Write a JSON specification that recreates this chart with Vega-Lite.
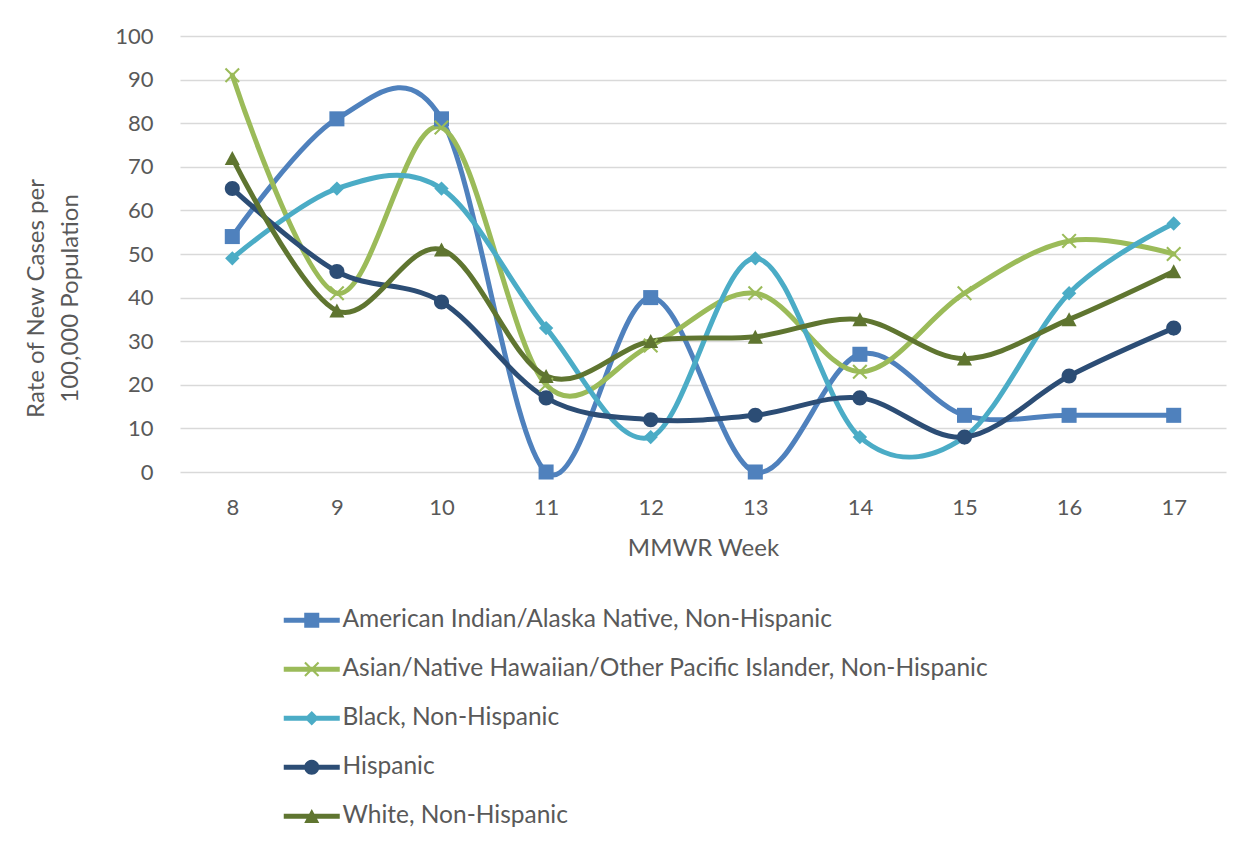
{
  "$schema": "https://vega.github.io/schema/vega-lite/v6.json",
  "width": 1046,
  "height": 436,
  "autosize": {"type": "none"},
  "padding": {"left": 180, "top": 36, "right": 24, "bottom": 374},
  "background": "white",
  "config": {
    "view": {"stroke": null},
    "font": "Lato",
    "axis": {"labelFont": "Lato", "titleFont": "Lato", "labelColor": "#595959", "titleColor": "#595959", "titleFontWeight": "normal", "labelFontSize": 22, "titleFontSize": 24},
    "legend": {"labelFont": "Lato"}
  },
  "data": {
    "values": [
      {"week": 8, "group": "American Indian/Alaska Native, Non-Hispanic", "rate": 54},
      {"week": 9, "group": "American Indian/Alaska Native, Non-Hispanic", "rate": 81},
      {"week": 10, "group": "American Indian/Alaska Native, Non-Hispanic", "rate": 81},
      {"week": 11, "group": "American Indian/Alaska Native, Non-Hispanic", "rate": 0},
      {"week": 12, "group": "American Indian/Alaska Native, Non-Hispanic", "rate": 40},
      {"week": 13, "group": "American Indian/Alaska Native, Non-Hispanic", "rate": 0},
      {"week": 14, "group": "American Indian/Alaska Native, Non-Hispanic", "rate": 27},
      {"week": 15, "group": "American Indian/Alaska Native, Non-Hispanic", "rate": 13},
      {"week": 16, "group": "American Indian/Alaska Native, Non-Hispanic", "rate": 13},
      {"week": 17, "group": "American Indian/Alaska Native, Non-Hispanic", "rate": 13},
      {"week": 8, "group": "Asian/Native Hawaiian/Other Pacific Islander, Non-Hispanic", "rate": 91},
      {"week": 9, "group": "Asian/Native Hawaiian/Other Pacific Islander, Non-Hispanic", "rate": 41},
      {"week": 10, "group": "Asian/Native Hawaiian/Other Pacific Islander, Non-Hispanic", "rate": 79},
      {"week": 11, "group": "Asian/Native Hawaiian/Other Pacific Islander, Non-Hispanic", "rate": 20},
      {"week": 12, "group": "Asian/Native Hawaiian/Other Pacific Islander, Non-Hispanic", "rate": 29},
      {"week": 13, "group": "Asian/Native Hawaiian/Other Pacific Islander, Non-Hispanic", "rate": 41},
      {"week": 14, "group": "Asian/Native Hawaiian/Other Pacific Islander, Non-Hispanic", "rate": 23},
      {"week": 15, "group": "Asian/Native Hawaiian/Other Pacific Islander, Non-Hispanic", "rate": 41},
      {"week": 16, "group": "Asian/Native Hawaiian/Other Pacific Islander, Non-Hispanic", "rate": 53},
      {"week": 17, "group": "Asian/Native Hawaiian/Other Pacific Islander, Non-Hispanic", "rate": 50},
      {"week": 8, "group": "Black, Non-Hispanic", "rate": 49},
      {"week": 9, "group": "Black, Non-Hispanic", "rate": 65},
      {"week": 10, "group": "Black, Non-Hispanic", "rate": 65},
      {"week": 11, "group": "Black, Non-Hispanic", "rate": 33},
      {"week": 12, "group": "Black, Non-Hispanic", "rate": 8},
      {"week": 13, "group": "Black, Non-Hispanic", "rate": 49},
      {"week": 14, "group": "Black, Non-Hispanic", "rate": 8},
      {"week": 15, "group": "Black, Non-Hispanic", "rate": 8},
      {"week": 16, "group": "Black, Non-Hispanic", "rate": 41},
      {"week": 17, "group": "Black, Non-Hispanic", "rate": 57},
      {"week": 8, "group": "Hispanic", "rate": 65},
      {"week": 9, "group": "Hispanic", "rate": 46},
      {"week": 10, "group": "Hispanic", "rate": 39},
      {"week": 11, "group": "Hispanic", "rate": 17},
      {"week": 12, "group": "Hispanic", "rate": 12},
      {"week": 13, "group": "Hispanic", "rate": 13},
      {"week": 14, "group": "Hispanic", "rate": 17},
      {"week": 15, "group": "Hispanic", "rate": 8},
      {"week": 16, "group": "Hispanic", "rate": 22},
      {"week": 17, "group": "Hispanic", "rate": 33},
      {"week": 8, "group": "White, Non-Hispanic", "rate": 72},
      {"week": 9, "group": "White, Non-Hispanic", "rate": 37},
      {"week": 10, "group": "White, Non-Hispanic", "rate": 51},
      {"week": 11, "group": "White, Non-Hispanic", "rate": 22},
      {"week": 12, "group": "White, Non-Hispanic", "rate": 30},
      {"week": 13, "group": "White, Non-Hispanic", "rate": 31},
      {"week": 14, "group": "White, Non-Hispanic", "rate": 35},
      {"week": 15, "group": "White, Non-Hispanic", "rate": 26},
      {"week": 16, "group": "White, Non-Hispanic", "rate": 35},
      {"week": 17, "group": "White, Non-Hispanic", "rate": 46}
    ]
  },
  "encoding": {
    "x": {
      "field": "week", "type": "quantitative",
      "scale": {"domain": [7.5, 17.5], "nice": false, "zero": false},
      "axis": {"values": [8, 9, 10, 11, 12, 13, 14, 15, 16, 17], "grid": false, "domain": false, "ticks": false, "tickSize": 0, "labelPadding": 25, "title": "MMWR Week", "titlePadding": 18, "labelFlush": false}
    },
    "y": {
      "field": "rate", "type": "quantitative",
      "scale": {"domain": [0, 100], "nice": false},
      "axis": {"values": [0, 10, 20, 30, 40, 50, 60, 70, 80, 90, 100], "grid": true, "gridColor": "#d9d9d9", "gridWidth": 1.5, "domain": false, "ticks": false, "tickSize": 0, "labelPadding": 27,
        "title": ["Rate of New Cases per", "100,000 Population"], "titleX": -144, "titleY": 262, "titleAngle": 270, "titleAlign": "center", "titleBaseline": "middle", "titleLineHeight": 34}
    }
  },
  "layer": [
    {
      "mark": {"type": "line", "interpolate": "cardinal", "tension": 0, "strokeWidth": 5, "strokeCap": "round", "strokeJoin": "round"},
      "encoding": {
        "color": {"field": "group", "type": "nominal", "legend": null,
          "scale": {"domain": ["American Indian/Alaska Native, Non-Hispanic", "Asian/Native Hawaiian/Other Pacific Islander, Non-Hispanic", "Black, Non-Hispanic", "Hispanic", "White, Non-Hispanic"],
            "range": ["#4F81BD", "#9BBB59", "#4BACC6", "#2C4D75", "#5F7530"]}}
      }
    },
    {
      "mark": {"type": "point", "filled": true, "size": 256, "opacity": 1, "strokeWidth": 0},
      "encoding": {
        "color": {"field": "group", "type": "nominal", "legend": null,
          "scale": {"domain": ["American Indian/Alaska Native, Non-Hispanic", "Asian/Native Hawaiian/Other Pacific Islander, Non-Hispanic", "Black, Non-Hispanic", "Hispanic", "White, Non-Hispanic"],
            "range": ["#4F81BD", "#9BBB59", "#4BACC6", "#2C4D75", "#5F7530"]}},
        "shape": {"field": "group", "type": "nominal", "legend": null,
          "scale": {"domain": ["American Indian/Alaska Native, Non-Hispanic", "Asian/Native Hawaiian/Other Pacific Islander, Non-Hispanic", "Black, Non-Hispanic", "Hispanic", "White, Non-Hispanic"],
            "range": [
              "M-0.94,-0.94H0.94V0.94H-0.94Z",
              "M-0.758,-0.942L0.942,0.758L0.758,0.942L-0.942,-0.758Z M-0.758,0.942L-0.942,0.758L0.758,-0.942L0.942,-0.758Z",
              "M0,-0.9L0.9,0L0,0.9L-0.9,0Z",
              "M-0.94,0A0.94,0.94,0,1,1,0.94,0A0.94,0.94,0,1,1,-0.94,0Z",
              "M0,-0.9L0.94,0.85L-0.94,0.85Z"
            ]}}
      }
    },
    {
      "transform": [{"filter": "datum.rate < -1000"}],
      "mark": {"type": "point", "filled": true, "size": 256, "opacity": 1, "strokeWidth": 0},
      "encoding": {
        "color": {"field": "group", "type": "nominal",
          "scale": {"domain": ["American Indian/Alaska Native, Non-Hispanic", "Asian/Native Hawaiian/Other Pacific Islander, Non-Hispanic", "Black, Non-Hispanic", "Hispanic", "White, Non-Hispanic"],
            "range": ["#4F81BD", "#9BBB59", "#4BACC6", "#2C4D75", "#5F7530"]},
          "legend": {"orient": "none", "legendX": 119.5, "legendY": 572, "direction": "vertical", "title": null, "labelFontSize": 24.5, "labelColor": "#595959", "symbolSize": 256, "symbolStrokeWidth": 0, "labelOffset": 18.5, "rowPadding": 24, "padding": 0, "labelLimit": 0}},
        "shape": {"field": "group", "type": "nominal",
          "scale": {"domain": ["American Indian/Alaska Native, Non-Hispanic", "Asian/Native Hawaiian/Other Pacific Islander, Non-Hispanic", "Black, Non-Hispanic", "Hispanic", "White, Non-Hispanic"],
            "range": [
              "M-3.5,-0.31H3.5V0.31H-3.5Z M-0.94,-0.94H0.94V0.94H-0.94Z",
              "M-3.5,-0.31H3.5V0.31H-3.5Z M-0.758,-0.942L0.942,0.758L0.758,0.942L-0.942,-0.758Z M-0.758,0.942L-0.942,0.758L0.758,-0.942L0.942,-0.758Z",
              "M-3.5,-0.31H3.5V0.31H-3.5Z M0,-0.9L0.9,0L0,0.9L-0.9,0Z",
              "M-3.5,-0.31H3.5V0.31H-3.5Z M-0.94,0A0.94,0.94,0,1,1,0.94,0A0.94,0.94,0,1,1,-0.94,0Z",
              "M-3.5,-0.31H3.5V0.31H-3.5Z M0,-0.9L0.94,0.85L-0.94,0.85Z"
            ]},
          "legend": {"orient": "none", "legendX": 119.5, "legendY": 572, "direction": "vertical", "title": null, "labelFontSize": 24.5, "labelColor": "#595959", "symbolSize": 256, "symbolStrokeWidth": 0, "labelOffset": 18.5, "rowPadding": 24, "padding": 0, "labelLimit": 0}}
      }
    }
  ],
  "resolve": {"scale": {"color": "independent", "shape": "independent"}}
}
